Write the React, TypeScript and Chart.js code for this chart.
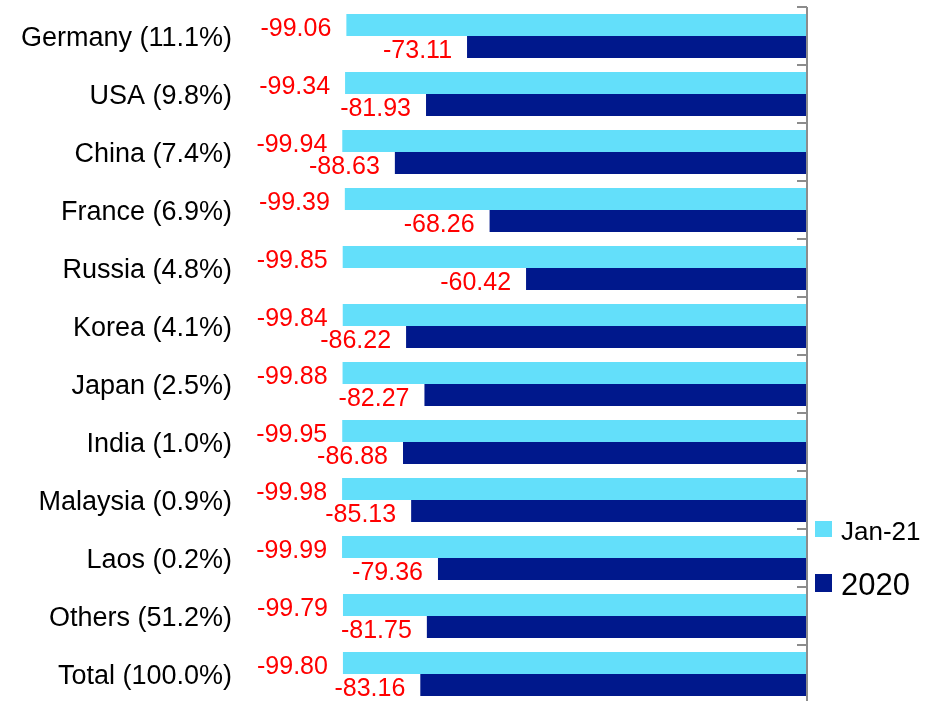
import React, { useEffect, useRef } from "react";
import { Chart, registerables } from "chart.js";

Chart.register(...registerables);

const categories = [
  "Germany (11.1%)",
  "USA (9.8%)",
  "China (7.4%)",
  "France (6.9%)",
  "Russia (4.8%)",
  "Korea (4.1%)",
  "Japan (2.5%)",
  "India (1.0%)",
  "Malaysia (0.9%)",
  "Laos (0.2%)",
  "Others (51.2%)",
  "Total (100.0%)",
];

const jan21Values = [-99.06, -99.34, -99.94, -99.39, -99.85, -99.84, -99.88, -99.95, -99.98, -99.99, -99.79, -99.8];
const y2020Values = [-73.11, -81.93, -88.63, -68.26, -60.42, -86.22, -82.27, -86.88, -85.13, -79.36, -81.75, -83.16];

const seriesNames = ["Jan-21", "2020"];
const seriesColors = ["#63DFFA", "#00188C"];

const FONT = "'Liberation Sans', Arial, sans-serif";

const dataLabelPlugin = {
  id: "dataLabels",
  afterDatasetsDraw(chart: any) {
    const ctx = chart.ctx;
    ctx.save();
    ctx.font = `25px ${FONT}`;
    ctx.fillStyle = "#FF0000";
    ctx.textAlign = "right";
    ctx.textBaseline = "middle";
    chart.data.datasets.forEach((ds: any, di: number) => {
      const meta = chart.getDatasetMeta(di);
      meta.data.forEach((bar: any, i: number) => {
        const v = ds.data[i];
        ctx.fillText(v.toFixed(2), bar.x - 15, bar.y + 4);
      });
    });
    ctx.restore();
  },
};

const axisPlugin = {
  id: "zeroAxis",
  afterDatasetsDraw(chart: any) {
    const ctx = chart.ctx;
    const xs = chart.scales.x;
    const ys = chart.scales.y;
    const x0 = xs.getPixelForValue(0);
    const n = chart.data.labels.length;
    const step = ys.getPixelForValue(1) - ys.getPixelForValue(0);
    ctx.save();
    ctx.strokeStyle = "#8C8C8C";
    ctx.lineWidth = 2;
    ctx.beginPath();
    ctx.moveTo(x0, chart.chartArea.top);
    ctx.lineTo(x0, chart.chartArea.bottom);
    for (let i = 0; i <= n; i++) {
      const y = Math.round(ys.getPixelForValue(i) - step / 2);
      ctx.moveTo(x0 - 10, y);
      ctx.lineTo(x0, y);
    }
    ctx.stroke();
    ctx.restore();
  },
};

const legendPlugin = {
  id: "customLegend",
  afterDraw(chart: any) {
    const ctx = chart.ctx;
    const items = chart.data.datasets;
    const specs = [
      { boxTop: 521, boxH: 16, baseline: 540, size: 26 },
      { boxTop: 574, boxH: 18, baseline: 595, size: 31 },
    ];
    ctx.save();
    items.forEach((ds: any, i: number) => {
      const s = specs[i];
      ctx.fillStyle = ds.backgroundColor;
      ctx.fillRect(815, s.boxTop, 17, s.boxH);
      ctx.fillStyle = "#000000";
      ctx.font = `${s.size}px ${FONT}`;
      ctx.textAlign = "left";
      ctx.textBaseline = "alphabetic";
      ctx.fillText(ds.label, 841, s.baseline);
    });
    ctx.restore();
  },
};

export default function App() {
  const canvasRef = useRef<HTMLCanvasElement | null>(null);

  useEffect(() => {
    if (!canvasRef.current) return;
    const chart = new Chart(canvasRef.current, {
      type: "bar",
      data: {
        labels: categories,
        datasets: [
          {
            label: seriesNames[0],
            data: jan21Values,
            backgroundColor: seriesColors[0],
            barPercentage: 1,
            categoryPercentage: 0.76,
          },
          {
            label: seriesNames[1],
            data: y2020Values,
            backgroundColor: seriesColors[1],
            barPercentage: 1,
            categoryPercentage: 0.76,
          },
        ],
      },
      options: {
        indexAxis: "y",
        responsive: true,
        maintainAspectRatio: false,
        animation: false,
        devicePixelRatio: 1,
        layout: { padding: { top: 7, bottom: 1, left: 0, right: 127 } },
        plugins: {
          legend: { display: false },
          tooltip: { enabled: false },
        },
        scales: {
          x: {
            display: false,
            min: -100,
            max: 0,
          },
          y: {
            position: "left",
            grid: { display: false, drawTicks: false },
            border: { display: false },
            ticks: {
              padding: 110,
              labelOffset: 3,
              color: "#000000",
              font: { family: FONT, size: 27 },
            },
            afterFit: (scale: any) => {
              scale.width = 342;
              scale.paddingTop = 0;
              scale.paddingBottom = 0;
            },
          },
        },
      },
      plugins: [dataLabelPlugin, axisPlugin, legendPlugin],
    });
    return () => chart.destroy();
  }, []);

  return (
    <div
      style={{
        position: "fixed",
        left: 0,
        top: 0,
        width: 934,
        height: 701,
        overflow: "hidden",
        background: "#ffffff",
      }}
    >
      <div style={{ position: "relative", width: 934, height: 704 }}>
        <canvas ref={canvasRef} />
      </div>
    </div>
  );
}
